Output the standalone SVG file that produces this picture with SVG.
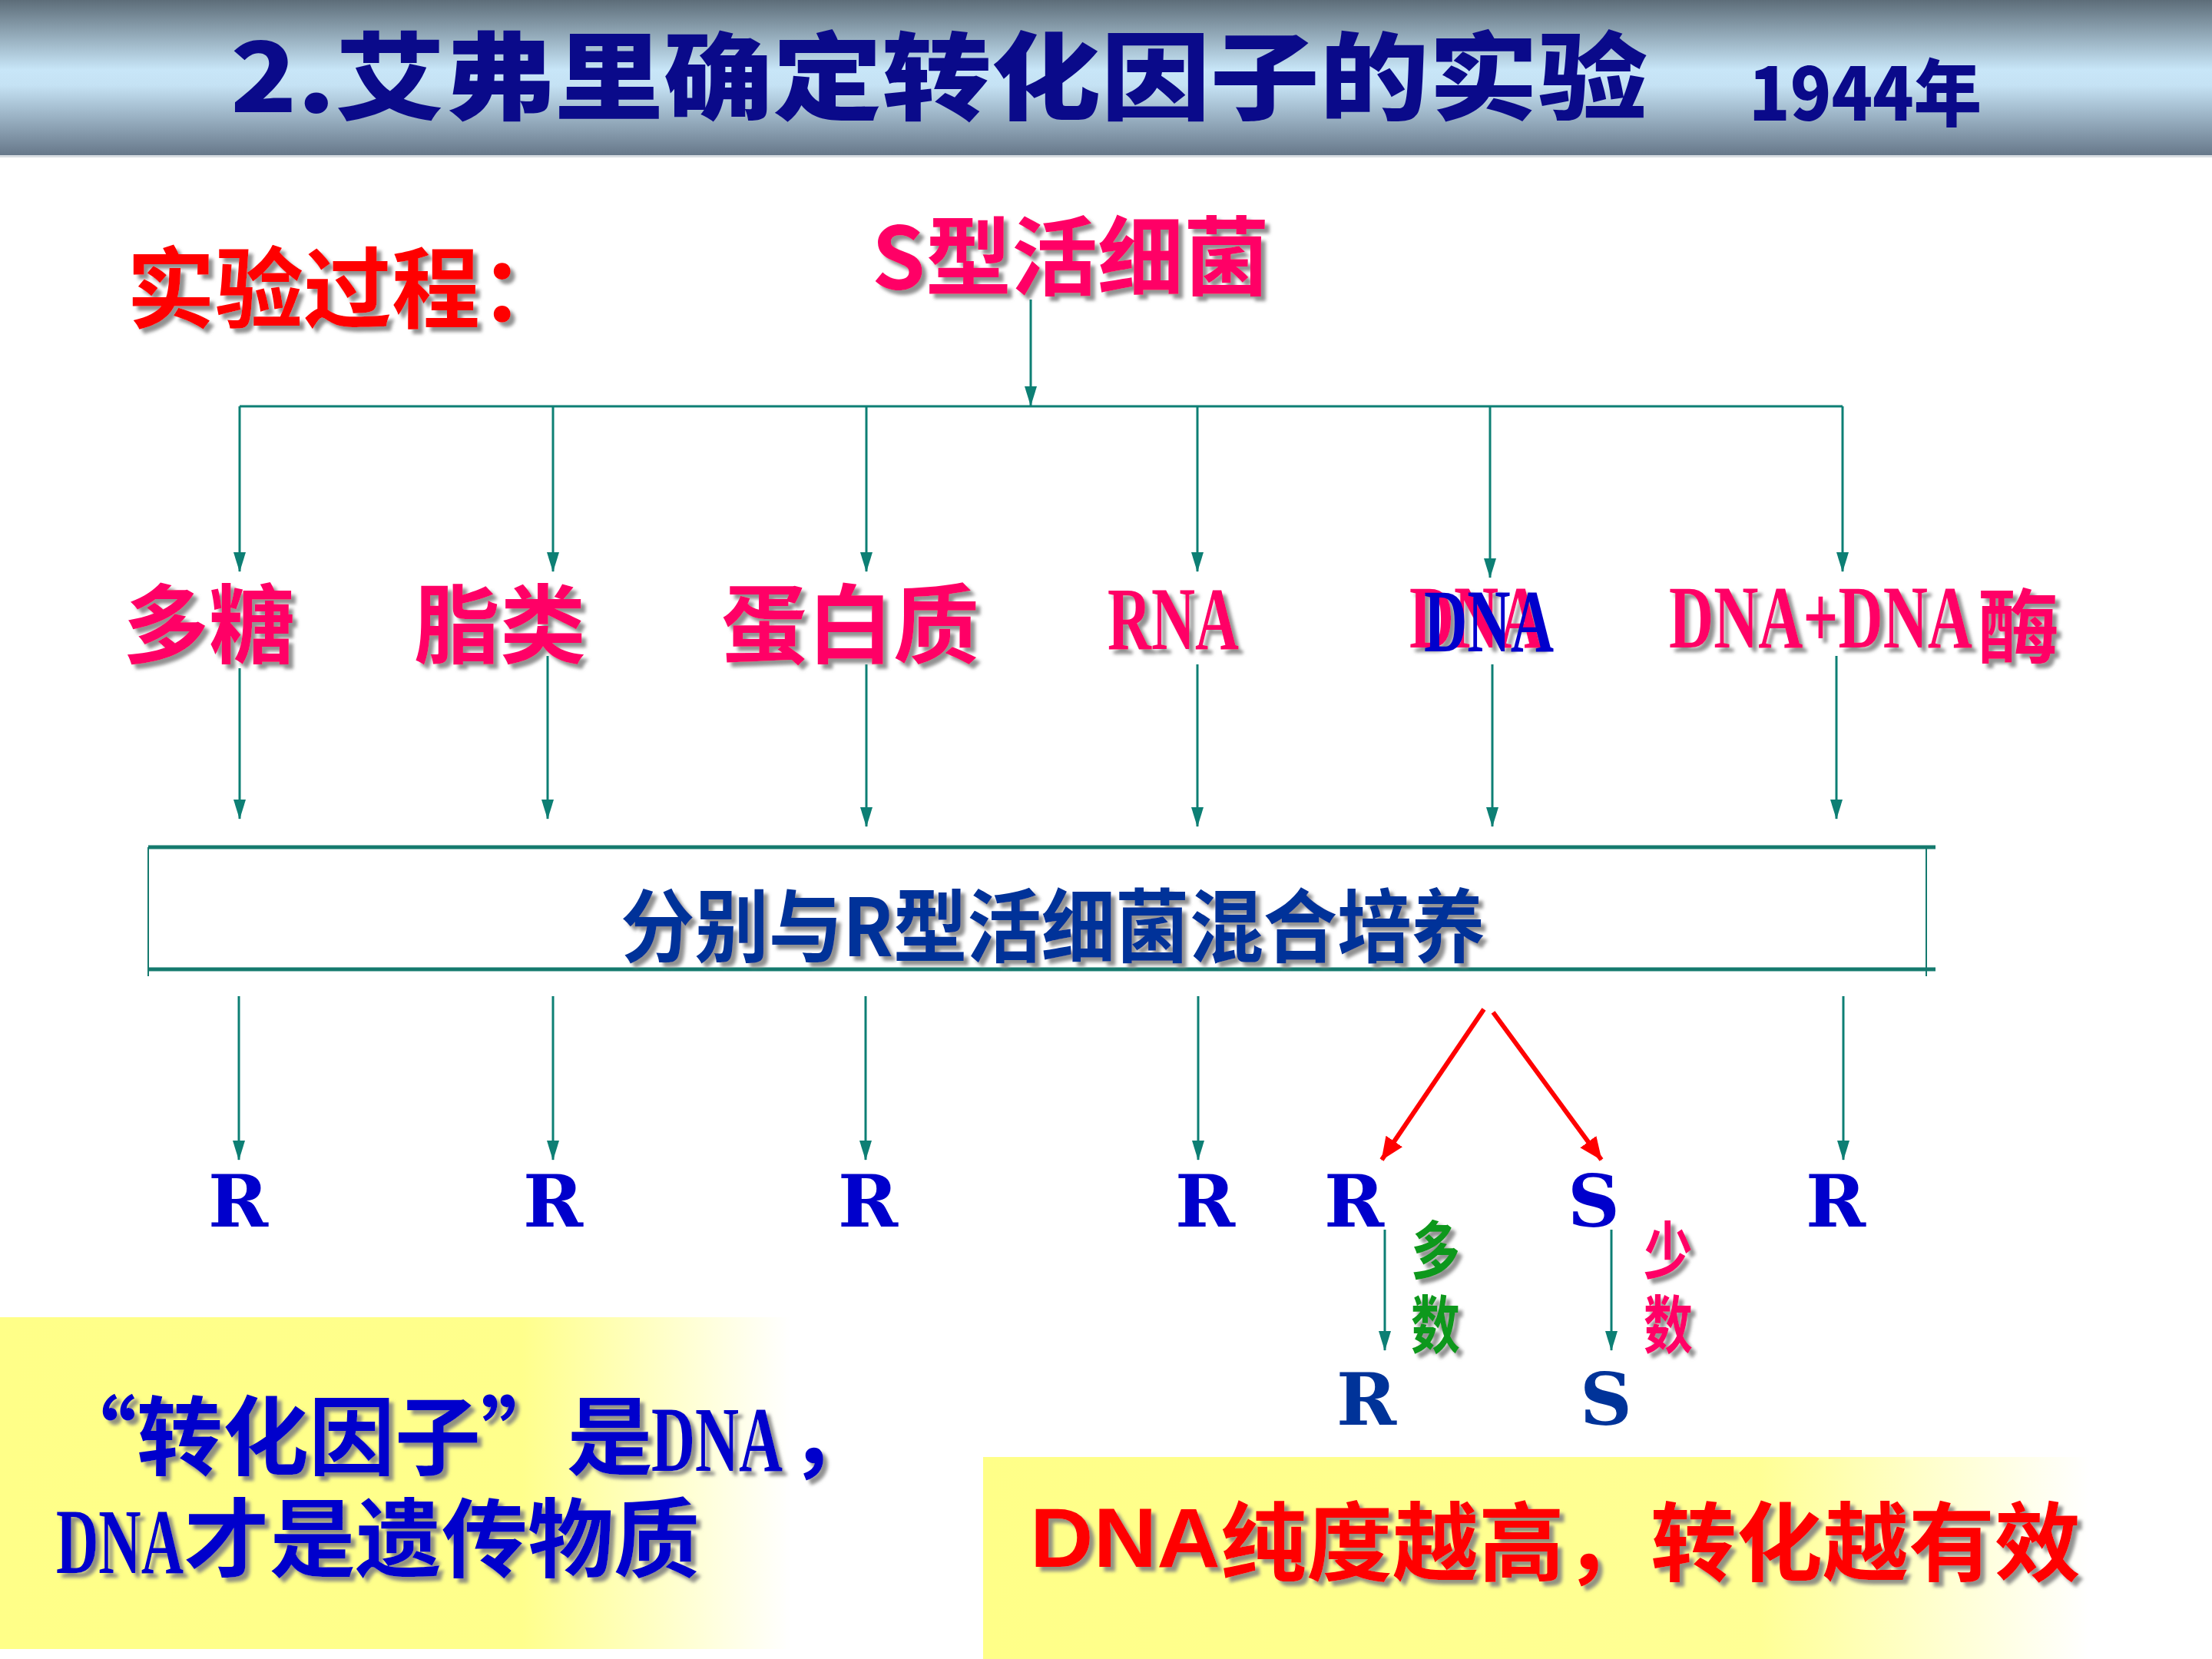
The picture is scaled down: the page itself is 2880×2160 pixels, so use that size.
<svg xmlns="http://www.w3.org/2000/svg" width="2880" height="2160" viewBox="0 0 2880 2160">
<defs>
<linearGradient id="titleBg" x1="0" y1="0" x2="0" y2="1">
<stop offset="0" stop-color="#5d6d79"/>
<stop offset="0.45" stop-color="#c8e6f8"/>
<stop offset="0.55" stop-color="#c5e2f4"/>
<stop offset="1" stop-color="#67788a"/>
</linearGradient>
<linearGradient id="yelL" x1="0" y1="0" x2="1" y2="0">
<stop offset="0" stop-color="#ffff88"/>
<stop offset="0.66" stop-color="#ffff8c"/>
<stop offset="1" stop-color="#ffffff"/>
</linearGradient>
<linearGradient id="yelR" x1="0" y1="0" x2="1" y2="0">
<stop offset="0" stop-color="#ffff88"/>
<stop offset="0.7" stop-color="#ffff95"/>
<stop offset="1" stop-color="#ffffff"/>
</linearGradient>
<filter id="sh" x="-5%" y="-10%" width="115%" height="130%">
<feDropShadow dx="6" dy="6" stdDeviation="2" flood-color="#7f7f7f" flood-opacity="0.85"/>
</filter>
<marker id="ah" markerUnits="userSpaceOnUse" markerWidth="26" markerHeight="16" refX="25" refY="8" orient="auto">
<path d="M0,0 L26,8 L0,16 Z" fill="#0d7f74"/>
</marker>
<marker id="ahr" markerUnits="userSpaceOnUse" markerWidth="30" markerHeight="26" refX="29" refY="13" orient="auto">
<path d="M0,0 L30,13 L0,26 Z" fill="#ff0000"/>
</marker>
<style>
.cjk{font-family:"Noto Sans CJK SC","Noto Sans",sans-serif;font-weight:700}
.ser{font-family:"Liberation Serif","Noto Sans CJK SC",serif;font-weight:700}
.let{font-family:"DejaVu Serif","Liberation Serif",serif;font-weight:700}
.pink{fill:#ff0066}
.sh{filter:url(#sh)}
.ln{stroke:#0d7f74;stroke-width:3;fill:none}
.arr{stroke:#0d7f74;stroke-width:3;fill:none;marker-end:url(#ah)}
.rarr{stroke:#ff0000;stroke-width:6;fill:none;marker-end:url(#ahr)}
</style>
</defs>
<rect width="2880" height="2160" fill="#ffffff"/>

<g id="title">
<rect x="0" y="0" width="2880" height="202" fill="url(#titleBg)"/>
<rect x="0" y="202" width="2880" height="3" fill="#d8dde2"/>
<text x="300" y="146" class="cjk" style="font-weight:900" font-size="124" fill="#0a0a8a" textLength="1845" lengthAdjust="spacingAndGlyphs">2.艾弗里确定转化因子的实验</text>
<text x="2277" y="157" class="cjk" style="font-weight:900" font-size="95" fill="#0a0a8a" textLength="303" lengthAdjust="spacingAndGlyphs">1944年</text>
</g>

<g id="yellow-panels">
<rect x="0" y="1715" width="1029" height="432" fill="url(#yelL)"/>
<rect x="1280" y="1897" width="1440" height="263" fill="url(#yelR)"/>
</g>

<g id="heading">
<text x="165" y="418" class="cjk sh" font-size="115" fill="#ff0000">实验过程：</text>
</g>

<g id="source">
<text x="1135" y="376" class="cjk sh pink" font-size="112">S型活细菌</text>
</g>

<g id="connectors">
<line class="arr" x1="1342" y1="390" x2="1342" y2="528"/>
<line class="ln" x1="312" y1="529" x2="2399" y2="529"/>
<line class="arr" x1="312" y1="529" x2="312" y2="744"/>
<line class="arr" x1="720" y1="529" x2="720" y2="744"/>
<line class="arr" x1="1128" y1="529" x2="1128" y2="744"/>
<line class="arr" x1="1559" y1="529" x2="1559" y2="744"/>
<line class="arr" x1="1940" y1="529" x2="1940" y2="752"/>
<line class="arr" x1="2399" y1="529" x2="2399" y2="744"/>
<line class="arr" x1="312" y1="870" x2="312" y2="1066"/>
<line class="arr" x1="713" y1="854" x2="713" y2="1066"/>
<line class="arr" x1="1128" y1="865" x2="1128" y2="1076"/>
<line class="arr" x1="1559" y1="865" x2="1559" y2="1076"/>
<line class="arr" x1="1943" y1="865" x2="1943" y2="1076"/>
<line class="arr" x1="2391" y1="854" x2="2391" y2="1066"/>
<line class="arr" x1="311" y1="1297" x2="311" y2="1510"/>
<line class="arr" x1="720" y1="1297" x2="720" y2="1510"/>
<line class="arr" x1="1127" y1="1297" x2="1127" y2="1510"/>
<line class="arr" x1="1560" y1="1297" x2="1560" y2="1510"/>
<line class="arr" x1="2400" y1="1297" x2="2400" y2="1510"/>
<line class="rarr" x1="1932" y1="1314" x2="1799" y2="1510"/>
<line class="rarr" x1="1944" y1="1318" x2="2085" y2="1510"/>
<line class="arr" x1="1803" y1="1601" x2="1803" y2="1758"/>
<line class="arr" x1="2098" y1="1601" x2="2098" y2="1758"/>
</g>

<g id="label-polysaccharide"><text x="160" y="855" class="cjk sh pink" font-size="112">多糖</text></g>
<g id="label-lipid"><text x="539" y="855" class="cjk sh pink" font-size="112">脂类</text></g>
<g id="label-protein"><text x="939" y="855" class="cjk sh pink" font-size="112">蛋白质</text></g>
<g id="label-rna"><text x="1442" y="845" class="ser sh pink" font-size="117" textLength="171" lengthAdjust="spacingAndGlyphs">RNA</text></g>
<g id="label-dna">
<text x="1835" y="843" class="ser sh pink" font-size="117" textLength="174" lengthAdjust="spacingAndGlyphs">DNA</text>
<text x="1854" y="848" class="ser" font-size="117" fill="#0000cc" textLength="169" lengthAdjust="spacingAndGlyphs">DNA</text>
</g>
<g id="label-dna-dnase">
<text x="2173" y="843" class="ser sh pink" font-size="117" textLength="395" lengthAdjust="spacingAndGlyphs">DNA+DNA</text>
<text x="2575" y="855" class="cjk sh pink" font-size="106">酶</text>
</g>

<g id="mix-box">
<line x1="193" y1="1103" x2="2520" y2="1103" stroke="#157a6e" stroke-width="5"/>
<line x1="193" y1="1262" x2="2520" y2="1262" stroke="#157a6e" stroke-width="5"/>
<line x1="193" y1="1103" x2="193" y2="1271" stroke="#157a6e" stroke-width="2"/>
<line x1="2508" y1="1103" x2="2508" y2="1271" stroke="#157a6e" stroke-width="2"/>
<text x="808" y="1245" class="cjk sh" font-size="104" fill="#003399" textLength="1126" lengthAdjust="spacingAndGlyphs">分别与R型活细菌混合培养</text>
</g>

<g id="results" class="let" font-size="94" fill="#0000cc" text-anchor="middle">
<text x="310" y="1597">R</text>
<text x="720" y="1597">R</text>
<text x="1130" y="1597">R</text>
<text x="1569" y="1597">R</text>
<text x="1763" y="1597">R</text>
<text x="2075" y="1597">S</text>
<text x="2390" y="1597">R</text>
</g>

<g id="offspring" class="let" font-size="94" fill="#003399" text-anchor="middle">
<text x="1779" y="1855">R</text>
<text x="2091" y="1855">S</text>
</g>

<g id="majority">
<text x="1837" y="1658" class="cjk sh" font-size="82" fill="#11981a" textLength="64" lengthAdjust="spacingAndGlyphs">多</text>
<text x="1837" y="1755" class="cjk sh" font-size="82" fill="#11981a" textLength="64" lengthAdjust="spacingAndGlyphs">数</text>
</g>
<g id="minority">
<text x="2140" y="1658" class="cjk sh pink" font-size="82" textLength="64" lengthAdjust="spacingAndGlyphs">少</text>
<text x="2140" y="1755" class="cjk sh pink" font-size="82" textLength="64" lengthAdjust="spacingAndGlyphs">数</text>
</g>

<g id="conclusion-left" fill="#0000cc">
<text x="66" y="1912" class="cjk sh" font-size="112">“转化因子”是</text>
<text x="848" y="1915" class="ser sh" font-size="120" textLength="171" lengthAdjust="spacingAndGlyphs">DNA</text>
<text x="1028" y="1912" class="cjk sh" font-size="112">，</text>
<text x="73" y="2048" class="ser sh" font-size="120" textLength="166" lengthAdjust="spacingAndGlyphs">DNA</text>
<text x="239" y="2045" class="cjk sh" font-size="112">才是遗传物质</text>
</g>

<g id="conclusion-right" fill="#ff0000">
<text x="1341" y="2040" class="sh" font-family="Liberation Sans, Arial, sans-serif" font-weight="700" font-size="110" textLength="248" lengthAdjust="spacingAndGlyphs">DNA</text>
<text x="1589" y="2050" class="cjk sh" font-size="112">纯度越高，转化越有效</text>
</g>
</svg>
